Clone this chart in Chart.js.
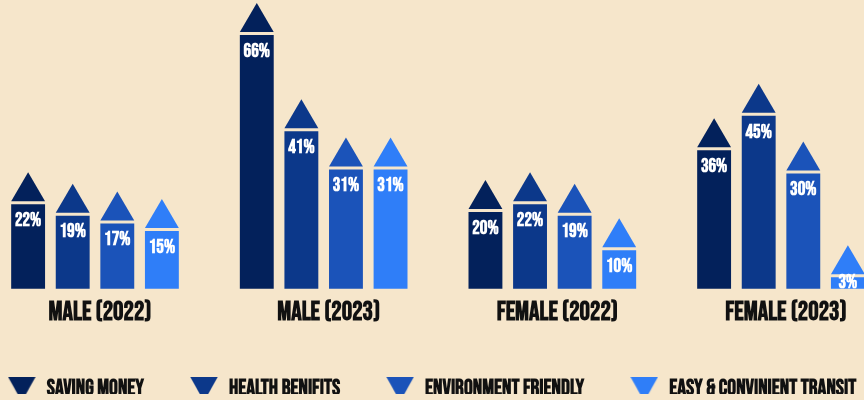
<!DOCTYPE html>
<html>
<head>
<meta charset="utf-8">
<script src="https://cdn.jsdelivr.net/npm/chart.js@4.4.1/dist/chart.umd.min.js"></script>
<style>
  html, body { margin: 0; padding: 0; background: #f6e6cb; }
  #wrap { width: 864px; height: 400px; }
</style>
</head>
<body>
<div id="wrap"><canvas id="chart"></canvas></div>
<script>
// ----------------------
//  DATA
// ----------------------
const groups = ['MALE (2022)', 'MALE (2023)', 'FEMALE (2022)', 'FEMALE (2023)'];
const seriesNames = ['SAVING MONEY', 'HEALTH BENIFITS', 'ENVIRONMENT FRIENDLY', 'EASY & CONVINIENT TRANSIT'];
const savingMoney = [22, 66, 20, 36];
const healthBenefits = [19, 41, 22, 45];
const environmentFriendly = [17, 31, 19, 30];
const easyTransit = [15, 31, 10, 3];
const colors = ['#03215b', '#0c388a', '#1b53b9', '#2f7ef8'];

const fontFamily = '"Bebas Neue", "Oswald", "Roboto Condensed", sans-serif';

//  LEGEND MARKERS (down triangles)
function legendMarker(color) {
    const c = document.createElement('canvas');
    c.width = 28;
    c.height = 25;
    const g = c.getContext('2d');
    g.fillStyle = color;
    g.beginPath();
    g.moveTo(0, 0);
    g.lineTo(28, 0);
    g.lineTo(14, 25);
    g.closePath();
    g.fill();
    return c;
}
const markers = colors.map(legendMarker);

// ----------------------
//  ARROW HEADS + VALUE LABELS
// ----------------------
const arrowHeads = {
    id: 'arrowHeads',
    afterDatasetsDraw(chart) {
        const ctx = chart.ctx;
        chart.data.datasets.forEach((ds, i) => {
            const meta = chart.getDatasetMeta(i);
            meta.data.forEach((bar, j) => {
                const half = bar.width / 2;
                const base = bar.y - 3;
                ctx.save();
                ctx.fillStyle = ds.backgroundColor;
                ctx.beginPath();
                ctx.moveTo(bar.x - half, base);
                ctx.lineTo(bar.x + half, base);
                ctx.lineTo(bar.x, base - 29);
                ctx.closePath();
                ctx.fill();

                ctx.fillStyle = '#ffffff';
                ctx.font = 'bold 19px ' + fontFamily;
                ctx.textAlign = 'center';
                ctx.textBaseline = 'middle';
                const ty = Math.min(bar.y + 17, (bar.y + bar.base) / 2);
                ctx.fillText(ds.data[j] + '%', bar.x, ty);
                ctx.restore();
            });
        });
    }
};

//  LEGEND: keep one row across the full width, pulled up a little
const legendFit = {
    id: 'legendFit',
    beforeInit(chart) {
        const fit = chart.legend.fit;
        chart.legend.fit = function () {
            const w = this.maxWidth;
            this.maxWidth = w + 600;
            fit.call(this);
            this.maxWidth = w;
            this.width = Math.min(this.width, w);
            this.height -= 16;
        };
    },
    afterLayout(chart) {
        const lg = chart.legend;
        lg.left = -60;
        lg.right = chart.width + 60;
        lg.top -= 6;
        lg.bottom -= 6;
    }
};

// ----------------------
//  CHART
// ----------------------
const allSeries = [savingMoney, healthBenefits, environmentFriendly, easyTransit];

const chartData = {
    labels: groups,
    datasets: allSeries.map((values, i) => ({
        label: seriesNames[i],
        data: values,
        backgroundColor: colors[i],
        borderWidth: 0,
        categoryPercentage: 0.78,
        barPercentage: 0.76,
        clip: false,
    }))
};

const options = {
    maintainAspectRatio: false,
    responsive: true,
    animation: false,
    layout: {
        padding: { top: 35, left: 95, right: 83, bottom: 0 }
    },
    scales: {
        x: {
            offset: false,
            grid: { display: false, drawTicks: false },
            border: { display: false },
            ticks: {
                padding: 9,
                labelOffset: 5,
                color: '#111111',
                maxRotation: 0,
                autoSkip: false,
                font: { family: fontFamily, size: 26, weight: 'bold', lineHeight: 1.2 }
            }
        },
        y: {
            display: false,
            min: 0,
            max: 66
        }
    },
    plugins: {
        tooltip: { enabled: false },
        legend: {
            position: 'bottom',
            labels: {
                usePointStyle: true,
                pointStyleWidth: 28,
                padding: 46,
                color: '#111111',
                font: { family: fontFamily, size: 22, weight: 'bold' },
                generateLabels(chart) {
                    return chart.data.datasets.map((ds, i) => ({
                        text: ds.label,
                        pointStyle: markers[i],
                        fillStyle: ds.backgroundColor,
                        strokeStyle: 'rgba(0,0,0,0)',
                        lineWidth: 0,
                        hidden: false,
                        datasetIndex: i,
                        fontColor: '#111111'
                    }));
                }
            }
        }
    }
};

new Chart(document.getElementById('chart').getContext('2d'), {
    type: 'bar',
    data: chartData,
    options: options,
    plugins: [arrowHeads, legendFit]
});
</script>
</body>
</html>
